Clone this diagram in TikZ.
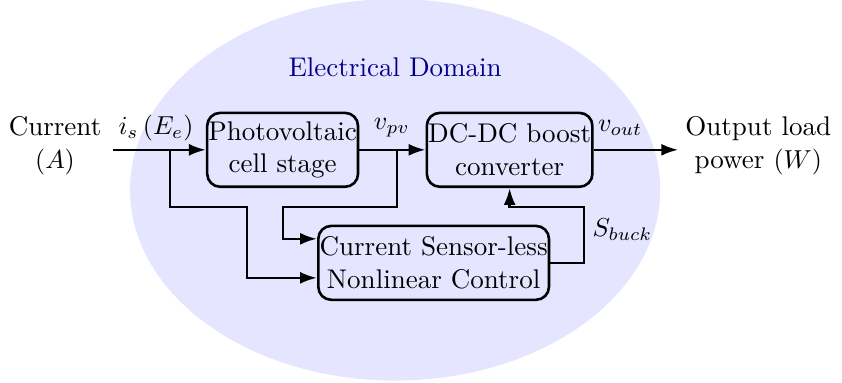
\documentclass[tikz,border=0pt]{standalone}
\usetikzlibrary{arrows.meta,shapes.geometric}
\begin{document}
\begin{tikzpicture}[>={Latex[length=6.5pt,width=4.6pt]}, line width=1pt, font=\fontsize{10.4}{12.6}\selectfont,
    blockbox/.style={draw, rounded corners=5pt, align=center, inner sep=0.5pt, minimum height=1cm}]
    \useasboundingbox (0,0) rectangle (11.39,5.18);
    % 背景椭圆
    \fill[blue!10] (5.345,2.612) ellipse (3.586 and 2.58);
    \node[blue!55!black] (domain) at (5.345,4.276) {Electrical Domain};
    % 方框
    \node[blockbox] (pv) at (3.823,3.153) {Photovoltaic\\cell stage};
    \node[blockbox] (boost) at (6.894,3.153) {DC-DC boost\\converter};
    \node[blockbox] (ctrl) at (5.866,1.624) {Current Sensor-less\\Nonlinear Control};
    % 输入和输出
    \node[align=center] (cur) at (0.744,3.207) {Current\\$(A)$};
    \node[align=center] (load) at (10.257,3.207) {Output load\\power $(W)$};
    \coordinate (in) at (1.53,3.153);
    \coordinate (out) at (9.175,3.153);
    % 连线
    \draw[->] (in) -- (pv.west);
    \draw[->] (pv.east) -- (boost.west);
    \draw[->] (boost.east) -- (out);
    \draw[->] (2.30,3.153) |- (3.342,2.382) |- (ctrl.west |- 0,1.421);
    \draw[->] (5.372,3.153) |- (3.83,2.382) |- (ctrl.west |- 0,1.949);
    \draw[->] (ctrl.east) -| (7.90,2.382) -| (boost.south);
    % 标签
    \node (is) at (2.11,3.45) {$i_s\,(E_e)$};
    \node (vpv) at (5.30,3.45) {$v_{pv}$};
    \node (vout) at (8.39,3.45) {$v_{out}$};
    \node (sbuck) at (8.42,2.07) {$S_{buck}$};
\end{tikzpicture}
\end{document}
